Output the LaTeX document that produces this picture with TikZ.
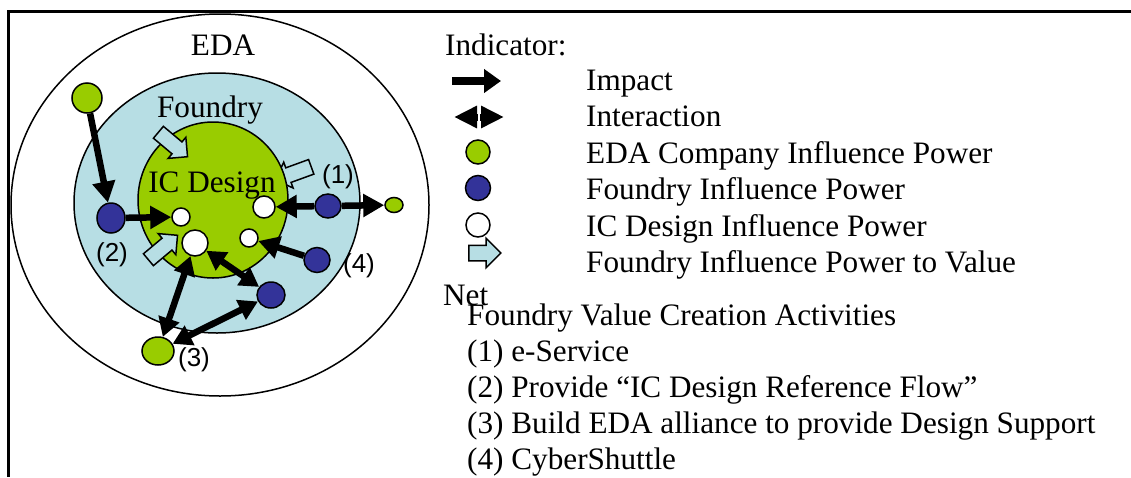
\documentclass[tikz,border=0pt]{standalone}
\usepackage{fontspec}
\setmainfont{Liberation Serif}
\newfontfamily\sansf{Liberation Sans}
\usetikzlibrary{arrows.meta,shapes.geometric,shapes.arrows}
\definecolor{fblue}{RGB}{183,222,228}
\definecolor{edagreen}{RGB}{153,204,0}
\definecolor{fndblue}{RGB}{51,51,153}
\tikzset{
  txt/.style={inner sep=0pt, font=\fontsize{31.2}{36}\selectfont},
  numlbl/.style={inner sep=0pt, font=\sansf\fontsize{26}{30}\selectfont},
  dot/.style={ellipse, draw=black, line width=1.5pt, inner sep=0pt},
  gdot/.style={dot, fill=edagreen},
  bdot/.style={dot, fill=fndblue},
  wdot/.style={dot, fill=white},
  impact/.style={line width=6.5pt, -{Triangle[length=21pt,width=22pt]}},
  interact/.style={line width=6.5pt, {Triangle[length=19pt,width=21pt]}-{Triangle[length=19pt,width=21pt]}},
  valarrow/.style={shape=single arrow, draw=black, line width=1.5pt, fill=fblue,
    minimum height=38pt, minimum width=0pt, inner xsep=0pt, inner ysep=7pt,
    single arrow head extend=6pt}
}
\begin{document}
\begin{tikzpicture}[x=1pt,y=-1pt]
\useasboundingbox (0,0) rectangle (1131,477);
% frame
\draw[line width=3pt] (7,11.5) -- (1131,11.5);
\draw[line width=3pt] (8.5,10) -- (8.5,477);
% rings
\draw[line width=1.5pt, fill=white] (220,205) ellipse [x radius=209, y radius=191];
\draw[line width=1.5pt, fill=fblue] (217,203) ellipse [x radius=143, y radius=130];
\node[valarrow, rotate=200] (v2) at (297,172) {};
\draw[line width=1.5pt, fill=edagreen] (213,200) ellipse [x radius=75, y radius=78];
\node[valarrow, rotate=-40] (v1) at (170,142) {};
\node[valarrow, rotate=40] (v3) at (160,250) {};
% labels in rings
\node[txt, anchor=base] (edal) at (223,55) {EDA};
\node[txt, anchor=base] (fndl) at (210,117) {Foundry};
\node[txt, anchor=base] (icl) at (212,192) {IC Design};
% influence nodes
\node[gdot, minimum width=30pt, minimum height=30pt] (g1) at (87,98) {};
\node[bdot, minimum width=28pt, minimum height=30pt] (b2) at (111,218) {};
\node[wdot, minimum width=18pt, minimum height=18pt] (w1) at (181,217) {};
\node[wdot, minimum width=26pt, minimum height=26pt] (w2) at (195,243) {};
\node[wdot, minimum width=22pt, minimum height=22pt] (w3) at (264,207) {};
\node[wdot, minimum width=18pt, minimum height=18pt] (w4) at (249,238) {};
\node[bdot, minimum width=26pt, minimum height=24pt] (b1) at (328,206) {};
\node[gdot, minimum width=18pt, minimum height=15pt] (g4) at (394,205) {};
\node[bdot, minimum width=26pt, minimum height=25pt] (b4) at (317,260) {};
\node[bdot, minimum width=28pt, minimum height=26pt] (b5) at (271,295) {};
\node[gdot, minimum width=32pt, minimum height=28pt] (g5) at (158,351) {};
% connectors
\draw[impact] (g1) -- (b2);
\draw[impact] (b2) -- (w1);
\draw[impact] (b1) -- (w3);
\draw[impact] (b1) -- (g4);
\draw[impact] (b4) -- (w4);
\draw[interact] (b5) -- (w2);
\draw[interact] (g5) -- (w2);
\draw[interact] (g5) -- (b5);
% activity numbers
\node[numlbl] (n1) at (338,177) {(1)};
\node[numlbl] (n2) at (112,255) {(2)};
\node[numlbl] (n3) at (194,360) {(3)};
\node[numlbl] (n4) at (359,266) {(4)};
% legend
\node[txt, anchor=base west] (ind) at (445,55) {Indicator:};
\coordinate (li1) at (452,81);
\coordinate (li2) at (501,81);
\draw[line width=8pt, -{Triangle[length=17pt,width=23pt]}] (li1) -- (li2);
\coordinate (lx1) at (454,117);
\coordinate (lx2) at (504,117);
\coordinate (lxm1) at (479,106);
\coordinate (lxm2) at (479,128);
\draw[line width=7pt, {Triangle[length=23pt,width=21pt]}-{Triangle[length=23pt,width=21pt]}] (lx1) -- (lx2);
\draw[white, line width=2pt] (lxm1) -- (lxm2);
\node[gdot, minimum size=24pt] (lg) at (478,152) {};
\node[bdot, minimum size=25pt] (lb) at (478,188) {};
\node[wdot, minimum size=24pt] (lw) at (478,225) {};
\node[valarrow, minimum height=32pt, inner ysep=7pt, single arrow head extend=7pt] (lv) at (481,253) {};
\node[txt, anchor=base west] (t1) at (586,90) {Impact};
\node[txt, anchor=base west] (t2) at (586,126) {Interaction};
\node[txt, anchor=base west] (t3) at (586,163) {EDA Company Influence Power};
\node[txt, anchor=base west] (t4) at (586,199) {Foundry Influence Power};
\node[txt, anchor=base west] (t5) at (586,236) {IC Design Influence Power};
\node[txt, anchor=base west] (t6) at (586,272) {Foundry Influence Power to Value};
% activities
\node[txt, anchor=base west] (net) at (443,305) {Net};
\node[txt, anchor=base west] (a0) at (467,325) {Foundry Value Creation Activities};
\node[txt, anchor=base west] (a1) at (467,361) {(1) e-Service};
\node[txt, anchor=base west] (a2) at (467,397) {(2) Provide “IC Design Reference Flow”};
\node[txt, anchor=base west] (a3) at (467,433) {(3) Build EDA alliance to provide Design Support};
\node[txt, anchor=base west] (a4) at (467,469) {(4) CyberShuttle};
\end{tikzpicture}
\end{document}
